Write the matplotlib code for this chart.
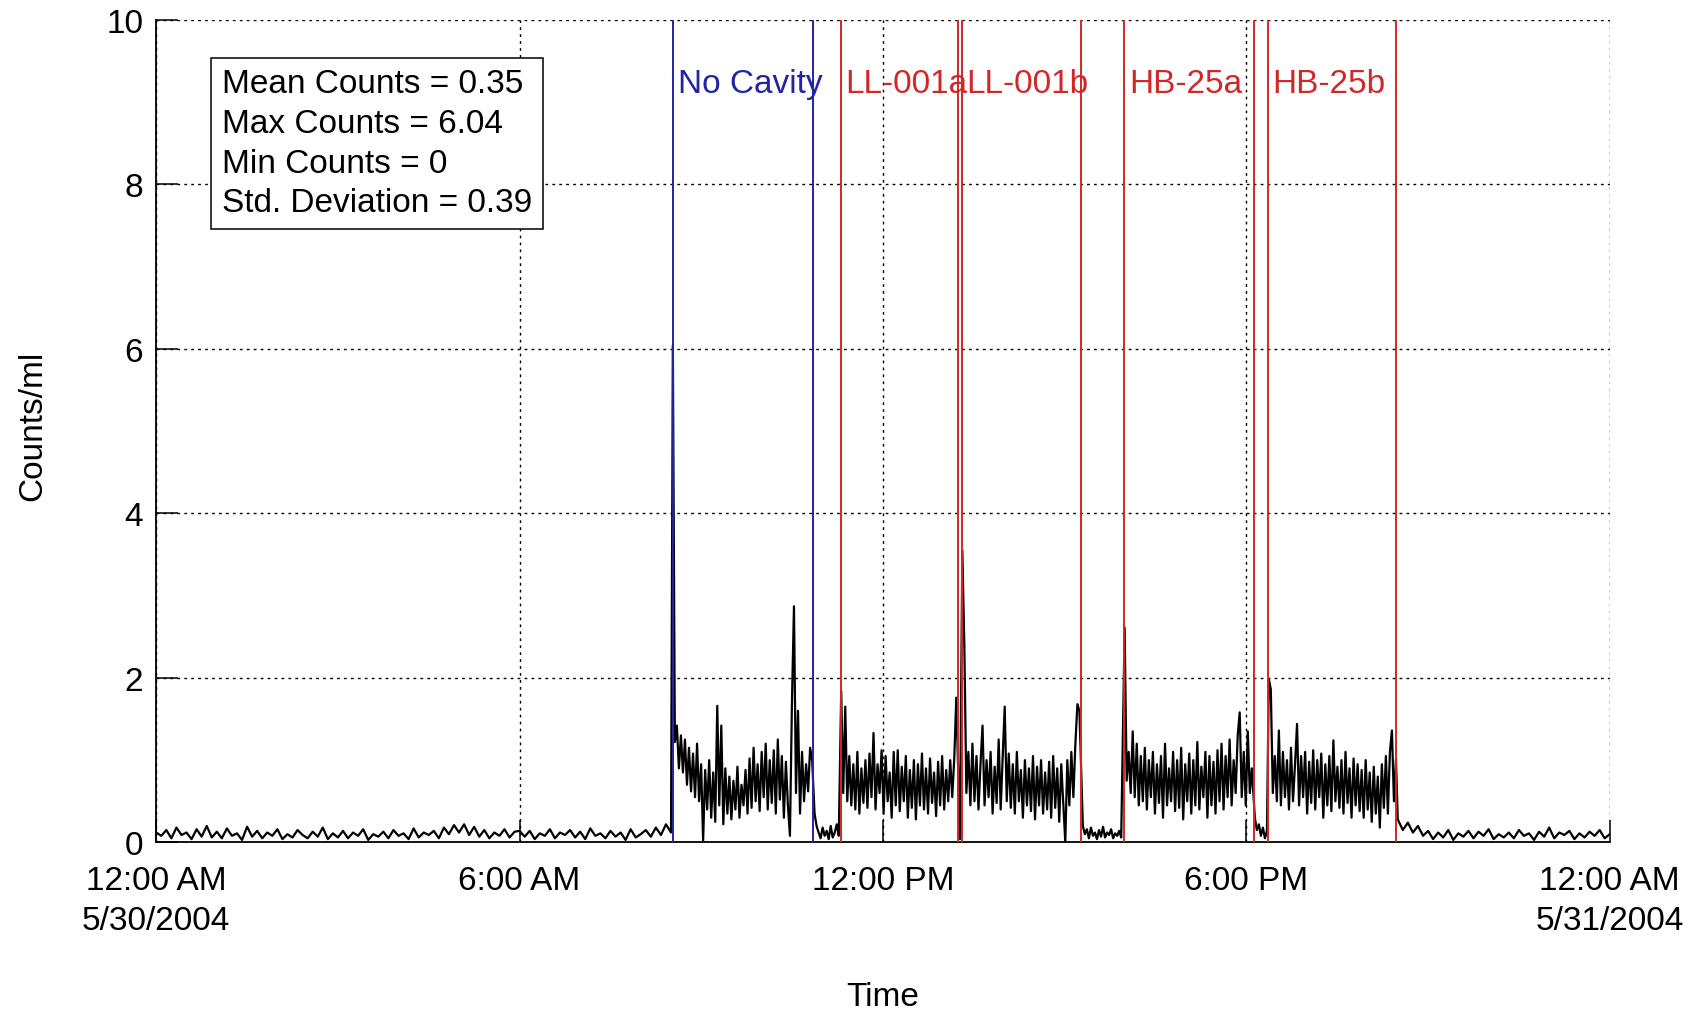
import numpy as np
import matplotlib.pyplot as plt

plt.rcParams['font.family'] = ['Liberation Sans', 'DejaVu Sans']
plt.rcParams['font.size'] = 24

# counts/ml, hours after midnight 5/30/2004
# background before the tests, every 5 min from 0:00
baseline_am = [0.12, 0.08, 0.15, 0.05, 0.18, 0.09, 0.12, 0.04, 0.16, 0.07, 0.20, 0.06,
               0.13, 0.05, 0.17, 0.08, 0.11, 0.03, 0.19, 0.07, 0.14, 0.05, 0.12, 0.08,
               0.16, 0.04, 0.10, 0.06, 0.15, 0.09, 0.05, 0.13, 0.07, 0.18, 0.04, 0.11,
               0.06, 0.14, 0.05, 0.12, 0.08, 0.16, 0.03, 0.10, 0.07, 0.13, 0.05, 0.15,
               0.08, 0.11, 0.04, 0.17, 0.06, 0.12, 0.09, 0.14, 0.05, 0.18, 0.10, 0.21,
               0.12, 0.22, 0.09, 0.19, 0.07, 0.15, 0.05, 0.12, 0.08, 0.16, 0.06, 0.13,
               0.14, 0.07, 0.14, 0.04, 0.11, 0.08, 0.16, 0.05, 0.12, 0.09, 0.15, 0.06,
               0.13, 0.04, 0.17, 0.08, 0.11, 0.05, 0.14, 0.07, 0.12, 0.03, 0.16, 0.06,
               0.10, 0.15, 0.07, 0.18, 0.09, 0.22, 0.12]
# test runs and the gaps between them, every 2 min
no_cavity = [6.04, 1.22, 1.42, 0.90, 1.30, 0.85, 1.25, 0.70, 1.15, 0.62,
             1.08, 0.55, 1.20, 0.50, 0.95, 0.02, 0.88, 0.40, 1.00, 0.30,
             0.85, 0.25, 1.66, 0.45, 1.42, 0.22, 0.90, 0.35, 0.80, 0.28,
             0.75, 0.40, 0.92, 0.30, 0.70, 0.45, 0.88, 0.35, 1.02, 0.42,
             1.15, 0.50, 0.95, 0.38, 1.10, 0.55, 1.20, 0.40, 1.00, 0.48,
             1.12, 0.35, 1.25, 0.52, 1.05, 0.30, 0.98, 0.45, 0.08, 1.70,
             2.87, 0.60, 1.60, 0.35, 1.10, 0.50, 0.95, 0.62, 1.15, 1.00]
gap_1 = [0.35, 0.20, 0.12, 0.05, 0.18, 0.08, 0.14, 0.04, 0.20, 0.06, 0.12, 0.22, 0.08]
ll_001a = [1.84, 0.60, 1.65, 0.50, 1.05, 0.45, 0.95, 0.40, 1.10, 0.35,
           0.90, 0.48, 1.00, 0.42, 1.08, 0.55, 1.33, 0.40, 0.95, 0.60,
           1.12, 0.35, 1.05, 0.50, 0.85, 0.30, 1.10, 0.45, 1.12, 0.38,
           0.92, 0.50, 1.05, 0.30, 0.88, 0.42, 1.00, 0.28, 0.95, 0.45,
           1.08, 0.40, 0.90, 0.35, 1.02, 0.48, 0.85, 0.32, 0.98, 0.45,
           1.05, 0.40, 0.88, 0.50, 1.00, 0.55, 1.02, 1.76]
gap_2 = [0.04]
ll_001b = [3.55, 2.38, 0.60, 1.10, 0.45, 1.20, 0.50, 1.05, 0.40, 0.95,
           1.42, 0.45, 1.00, 0.55, 1.10, 0.35, 0.92, 0.48, 1.25, 0.40,
           1.05, 1.65, 0.50, 1.08, 0.42, 0.95, 0.35, 1.10, 0.50, 0.88,
           0.30, 1.00, 0.45, 0.90, 0.38, 1.05, 0.28, 0.92, 0.45, 1.00,
           0.35, 0.85, 0.40, 0.98, 0.30, 1.05, 0.42, 0.90, 0.25, 0.95,
           0.48, 0.00, 1.00, 0.45, 1.10, 0.55, 1.20, 1.68, 1.60]
gap_3 = [0.20, 0.10, 0.16, 0.05, 0.18, 0.08, 0.12, 0.04, 0.15, 0.07,
         0.19, 0.06, 0.12, 0.09, 0.16, 0.05, 0.11, 0.08, 0.14, 0.06]
hb_25a = [2.61, 0.75, 1.10, 0.60, 1.35, 0.55, 1.20, 0.45, 1.05, 0.50,
          1.15, 0.40, 1.00, 0.55, 1.10, 0.35, 0.95, 0.48, 1.05, 0.30,
          1.20, 0.45, 0.90, 0.50, 1.10, 0.38, 1.00, 0.42, 1.15, 0.28,
          0.95, 0.50, 1.08, 0.35, 1.00, 0.45, 1.22, 0.40, 0.92, 0.55,
          1.10, 0.30, 1.05, 0.45, 0.98, 0.35, 1.12, 0.50, 1.20, 0.40,
          1.05, 0.55, 1.25, 0.45, 1.00, 0.60, 1.30, 1.58, 0.55, 1.10,
          0.45, 1.35, 0.60, 0.90]
gap_4 = [0.30, 0.15, 0.22, 0.08, 0.18, 0.05, 0.14]
hb_25b = [1.99, 1.86, 0.60, 1.05, 0.50, 1.36, 0.45, 1.10, 0.55, 1.00,
          0.40, 1.15, 0.50, 0.95, 1.44, 0.45, 1.05, 0.55, 1.10, 0.35,
          0.98, 0.48, 1.12, 0.40, 1.00, 0.55, 1.08, 0.30, 0.95, 0.45,
          1.05, 0.38, 1.24, 0.50, 0.92, 0.42, 1.00, 0.35, 1.10, 0.48,
          0.90, 0.30, 1.02, 0.45, 0.95, 0.38, 0.88, 0.30, 1.00, 0.40,
          0.85, 0.25, 0.92, 0.35, 0.80, 0.18, 0.95, 0.42, 1.05, 0.35,
          1.10, 1.36, 0.50, 1.01]
# background after the tests, every 5 min
baseline_pm = [0.28, 0.15, 0.24, 0.12, 0.20, 0.08, 0.14, 0.04, 0.12, 0.06, 0.15, 0.03,
               0.11, 0.07, 0.14, 0.05, 0.13, 0.08, 0.16, 0.04, 0.10, 0.06, 0.12, 0.05,
               0.15, 0.08, 0.11, 0.03, 0.13, 0.07, 0.18, 0.05, 0.12, 0.09, 0.14, 0.04,
               0.11, 0.06, 0.13, 0.08, 0.15, 0.05, 0.10]

# (start hour, sample step in minutes, values)
segments = [(0.0, 5, baseline_am), (8.53, 2, no_cavity), (10.87, 2, gap_1),
            (11.31, 2, ll_001a), (13.27, 2, gap_2), (13.31, 2, ll_001b),
            (15.30, 2, gap_3), (15.99, 2, hb_25a), (18.14, 2, gap_4),
            (18.37, 2, hb_25b), (20.50, 5, baseline_pm)]

test_names = ["No Cavity", "LL-001a", "LL-001b", "HB-25a", "HB-25b"]
test_start = [8.53, 11.30, 13.30, 15.98, 18.35]
test_end = [10.84, 13.24, 15.27, 18.12, 20.47]
test_colors = ['#2323a8', '#d02828', '#d02828', '#d02828', '#d02828']

stats_text = "Mean Counts = 0.35\nMax Counts = 6.04\nMin Counts = 0\nStd. Deviation = 0.39"

hour_ticks = [0, 6, 12, 18, 24]
hour_labels = ["12:00 AM\n5/30/2004", "6:00 AM", "12:00 PM", "6:00 PM", "12:00 AM\n5/31/2004"]

hours, counts = [], []
for start, step, vals in segments:
    hours.extend(start + np.arange(len(vals)) * step / 60.0)
    counts.extend(vals)

fig = plt.figure(figsize=(17.02, 10.12), dpi=100)
ax = fig.add_axes([0.0918, 0.1666, 0.854, 0.813])

ax.plot(hours, counts, color='black', lw=1.6, zorder=3)

for name, t0, t1, col in zip(test_names, test_start, test_end, test_colors):
    ax.axvline(t0, color=col, lw=1.4, zorder=4)
    ax.axvline(t1, color=col, lw=1.4, zorder=4)
    ax.text(t0 + 0.08, 9.22, name, color=col, ha='left', va='center', zorder=5)

ax.text(0.0452, 0.9407, stats_text, transform=ax.transAxes, ha='left', va='top',
        linespacing=1.36, zorder=6,
        bbox=dict(boxstyle='square,pad=0.32', facecolor='white', edgecolor='black', lw=1.1))

ax.set_xlim(0, 24)
ax.set_ylim(0, 10)
ax.set_xticks(hour_ticks)
ax.set_xticklabels(hour_labels, multialignment='center', linespacing=1.38)
ax.set_yticks(range(0, 11, 2))
ax.grid(True, color='black', linestyle=(0, (2, 3)), lw=1.0)
ax.set_axisbelow(True)
for side in ['top', 'right']:
    ax.spines[side].set_visible(False)
for side in ['left', 'bottom']:
    ax.spines[side].set_linewidth(1.3)
ax.tick_params(axis='both', direction='in', length=15.5, width=1.1)
ax.tick_params(axis='x', pad=16)
ax.tick_params(axis='y', pad=9.5)

ax.set_xlabel("Time")
ax.set_ylabel("Counts/ml")
ax.xaxis.set_label_coords(0.5, -0.169)
ax.yaxis.set_label_coords(-0.0745, 0.507)

fig.savefig("out.png", dpi=100, facecolor='white')
